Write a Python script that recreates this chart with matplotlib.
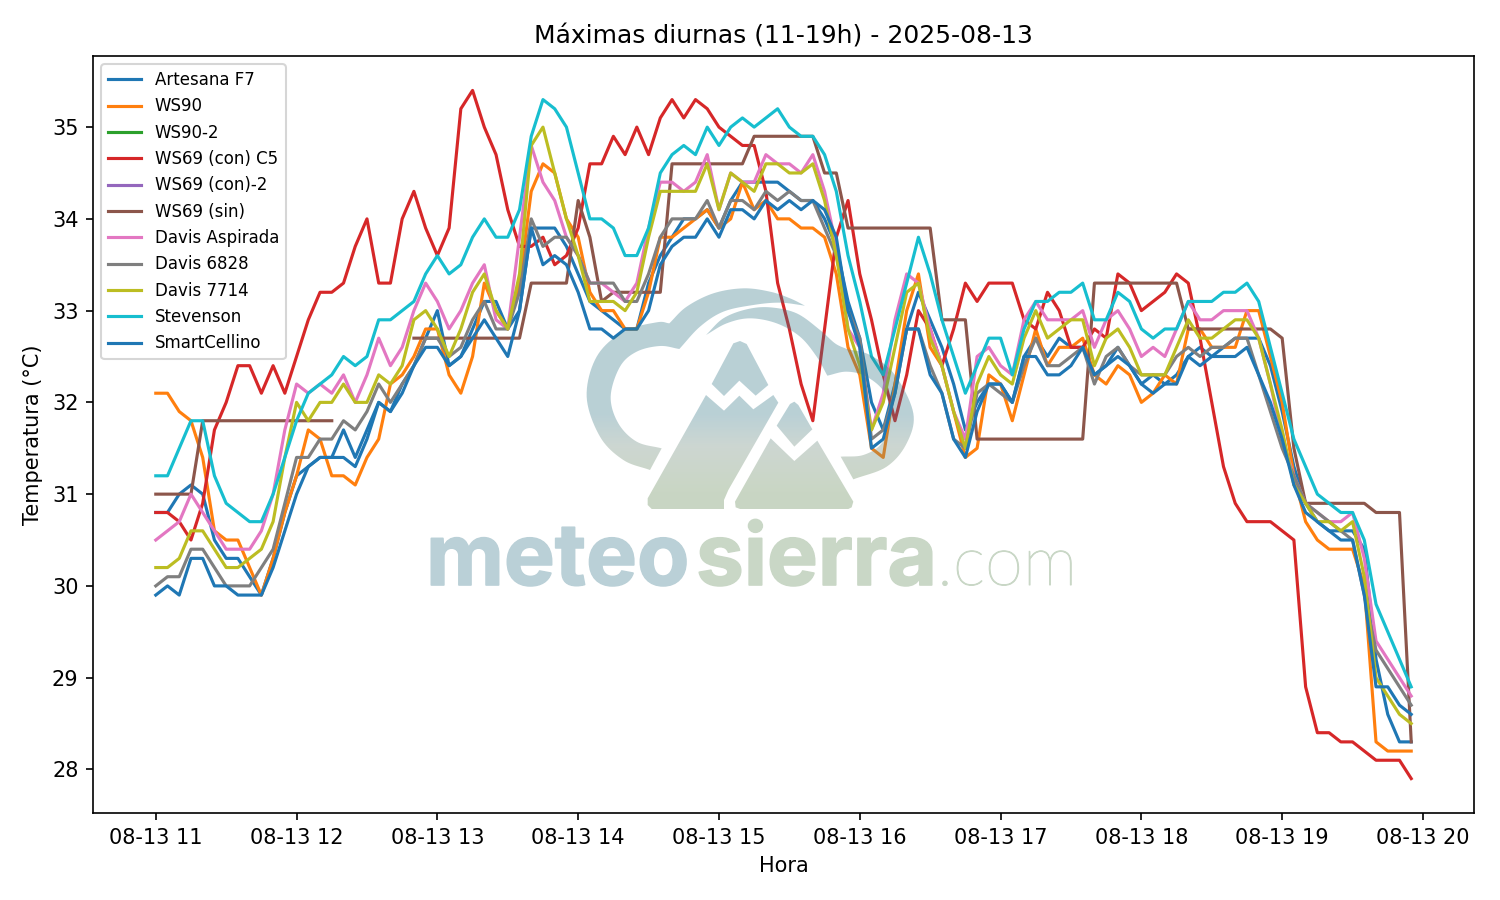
import numpy as np
import pandas as pd
import matplotlib
matplotlib.use("Agg")
import matplotlib.pyplot as plt
import matplotlib.dates as mdates
import matplotlib.patheffects as pe
from matplotlib.path import Path
from matplotlib.patches import PathPatch

nan = np.nan
times = pd.date_range("2025-08-13 11:00", "2025-08-13 19:55", freq="5min")

artesana = [30.8,30.8,31.0,31.1,31.0,30.5,30.3,30.3,30.1,29.9,30.3,30.8,
            31.2,31.3,31.4,31.4,31.7,31.4,31.7,32.0,31.9,32.2,32.4,32.7,
            33.0,32.4,32.5,32.8,33.1,33.1,32.8,33.0,33.9,33.9,33.9,33.7,
            33.4,33.1,33.0,32.9,32.8,32.8,33.3,33.6,33.8,34.0,34.0,34.1,
            33.9,34.2,34.4,34.4,34.4,34.4,34.3,34.2,34.2,34.0,33.7,33.1,
            32.7,32.0,31.7,32.2,32.8,33.2,32.9,32.6,32.2,31.7,32.0,32.2,
            32.2,32.0,32.5,32.7,32.5,32.7,32.6,32.6,32.3,32.4,32.6,32.4,
            32.2,32.3,32.2,32.3,32.5,32.6,32.5,32.6,32.7,32.7,32.7,32.4,
            31.9,31.3,30.9,30.7,30.6,30.6,30.6,30.4,29.2,28.6,28.3,28.3]
ws90 = [32.1,32.1,31.9,31.8,31.4,30.6,30.5,30.5,30.2,29.9,30.3,30.8,
        31.2,31.7,31.6,31.2,31.2,31.1,31.4,31.6,32.2,32.3,32.5,32.8,
        32.8,32.3,32.1,32.5,33.3,33.0,32.8,33.3,34.3,34.6,34.5,34.0,
        33.8,33.2,33.0,33.0,32.8,32.8,33.2,33.8,33.8,33.9,34.0,34.1,
        33.9,34.0,34.4,34.1,34.2,34.0,34.0,33.9,33.9,33.8,33.4,32.6,
        32.3,31.5,31.4,32.2,33.0,33.4,32.6,32.4,31.9,31.4,31.5,32.3,
        32.2,31.8,32.3,32.8,32.4,32.6,32.6,32.7,32.3,32.2,32.4,32.3,
        32.0,32.1,32.3,32.2,32.8,32.8,32.6,32.6,32.6,33.0,33.0,32.5,
        32.0,31.2,30.7,30.5,30.4,30.4,30.4,30.0,28.3,28.2,28.2,28.2]
ws90_2 = []
ws69_con_c5 = [30.8,30.8,30.7,30.5,30.9,31.7,32.0,32.4,32.4,32.1,32.4,32.1,
               32.5,32.9,33.2,33.2,33.3,33.7,34.0,33.3,33.3,34.0,34.3,33.9,
               33.6,33.9,35.2,35.4,35.0,34.7,34.1,33.7,33.7,33.8,33.5,33.6,
               33.9,34.6,34.6,34.9,34.7,35.0,34.7,35.1,35.3,35.1,35.3,35.2,
               35.0,34.9,34.8,34.8,34.3,33.3,32.8,32.2,31.8,32.8,33.8,34.2,
               33.4,32.9,32.3,31.8,32.3,33.0,32.8,32.4,32.8,33.3,33.1,33.3,
               33.3,33.3,32.9,32.8,33.2,33.0,32.6,32.6,32.8,32.7,33.4,33.3,
               33.0,33.1,33.2,33.4,33.3,32.7,32.0,31.3,30.9,30.7,30.7,30.7,
               30.6,30.5,28.9,28.4,28.4,28.3,28.3,28.2,28.1,28.1,28.1,27.9]
ws69_con_2 = []
ws69_sin = [31.0,31.0,31.0,31.0,31.8,31.8,31.8,31.8,31.8,31.8,31.8,31.8,
            31.8,31.8,31.8,31.8,nan,nan,nan,nan,nan,nan,32.7,32.7,
            32.7,32.7,32.7,32.7,32.7,32.7,32.7,32.7,33.3,33.3,33.3,33.3,
            34.2,33.8,33.1,33.2,33.2,33.2,33.2,33.2,34.6,34.6,34.6,34.6,
            34.6,34.6,34.6,34.9,34.9,34.9,34.9,34.9,34.9,34.5,34.5,33.9,
            33.9,33.9,33.9,33.9,33.9,33.9,33.9,32.9,32.9,32.9,31.6,31.6,
            31.6,31.6,31.6,31.6,31.6,31.6,31.6,31.6,33.3,33.3,33.3,33.3,
            33.3,33.3,33.3,33.3,32.8,32.8,32.8,32.8,32.8,32.8,32.8,32.8,
            32.7,31.5,30.9,30.9,30.9,30.9,30.9,30.9,30.8,30.8,30.8,28.3]
davis_aspirada = [30.5,30.6,30.7,31.0,30.8,30.6,30.4,30.4,30.4,30.6,31.0,31.7,
                  32.2,32.1,32.2,32.1,32.3,32.0,32.3,32.7,32.4,32.6,33.0,33.3,
                  33.1,32.8,33.0,33.3,33.5,32.9,32.8,33.8,34.8,34.4,34.2,33.8,
                  33.6,33.3,33.3,33.2,33.1,33.3,33.9,34.4,34.4,34.3,34.4,34.7,
                  34.1,34.5,34.4,34.4,34.7,34.6,34.6,34.5,34.7,34.3,33.7,32.8,
                  32.6,31.7,32.1,32.9,33.4,33.3,32.8,32.4,31.9,31.6,32.5,32.6,
                  32.4,32.3,32.9,33.1,32.9,32.9,32.9,33.0,32.6,32.9,33.0,32.8,
                  32.5,32.6,32.5,32.8,33.1,32.9,32.9,33.0,33.0,33.0,32.7,32.2,
                  31.6,31.2,30.9,30.8,30.7,30.7,30.8,30.3,29.4,29.2,29.0,28.8]
davis_6828 = [30.0,30.1,30.1,30.4,30.4,30.2,30.0,30.0,30.0,30.2,30.4,30.9,
              31.4,31.4,31.6,31.6,31.8,31.7,31.9,32.2,32.0,32.2,32.4,32.7,
              32.7,32.5,32.6,32.9,33.1,32.8,32.8,33.2,34.0,33.7,33.8,33.8,
              33.6,33.3,33.3,33.3,33.1,33.1,33.4,33.8,34.0,34.0,34.0,34.2,
              33.9,34.2,34.2,34.1,34.3,34.2,34.3,34.2,34.2,33.9,33.6,33.0,
              32.7,31.6,31.7,32.1,32.8,32.8,32.4,32.1,31.6,31.5,32.1,32.2,
              32.1,32.0,32.4,32.7,32.4,32.4,32.5,32.6,32.2,32.5,32.6,32.4,
              32.3,32.3,32.3,32.5,32.6,32.5,32.6,32.6,32.7,32.7,32.3,31.9,
              31.5,31.2,30.9,30.8,30.7,30.6,30.5,29.9,29.3,29.1,28.9,28.7]
davis_7714 = [30.2,30.2,30.3,30.6,30.6,30.4,30.2,30.2,30.3,30.4,30.7,31.4,
              32.0,31.8,32.0,32.0,32.2,32.0,32.0,32.3,32.2,32.4,32.9,33.0,
              32.8,32.5,32.8,33.2,33.4,33.0,32.8,33.4,34.8,35.0,34.5,34.0,
              33.6,33.1,33.1,33.1,33.0,33.2,33.8,34.3,34.3,34.3,34.3,34.6,
              34.1,34.5,34.4,34.3,34.6,34.6,34.5,34.5,34.6,34.2,33.6,32.8,
              32.4,31.7,32.0,32.6,33.2,33.3,32.7,32.4,31.9,31.5,32.2,32.5,
              32.3,32.2,32.7,33.0,32.7,32.8,32.9,32.9,32.4,32.7,32.8,32.6,
              32.3,32.3,32.3,32.6,32.9,32.7,32.7,32.8,32.9,32.9,32.7,32.2,
              31.7,31.1,30.9,30.7,30.7,30.6,30.7,30.1,29.0,28.8,28.6,28.5]
stevenson = [31.2,31.2,31.5,31.8,31.8,31.2,30.9,30.8,30.7,30.7,31.0,31.4,
             31.8,32.1,32.2,32.3,32.5,32.4,32.5,32.9,32.9,33.0,33.1,33.4,
             33.6,33.4,33.5,33.8,34.0,33.8,33.8,34.1,34.9,35.3,35.2,35.0,
             34.5,34.0,34.0,33.9,33.6,33.6,33.9,34.5,34.7,34.8,34.7,35.0,
             34.8,35.0,35.1,35.0,35.1,35.2,35.0,34.9,34.9,34.7,34.3,33.6,
             33.1,32.5,32.3,32.8,33.3,33.8,33.4,32.9,32.5,32.1,32.4,32.7,
             32.7,32.3,32.8,33.1,33.1,33.2,33.2,33.3,32.9,32.9,33.2,33.1,
             32.8,32.7,32.8,32.8,33.1,33.1,33.1,33.2,33.2,33.3,33.1,32.6,
             32.1,31.6,31.3,31.0,30.9,30.8,30.8,30.5,29.8,29.5,29.2,28.9]
smartcellino = [29.9,30.0,29.9,30.3,30.3,30.0,30.0,29.9,29.9,29.9,30.2,30.6,
                31.0,31.3,31.4,31.4,31.4,31.3,31.6,32.0,31.9,32.1,32.4,32.6,
                32.6,32.4,32.5,32.7,32.9,32.7,32.5,33.0,33.9,33.5,33.6,33.5,
                33.2,32.8,32.8,32.7,32.8,32.8,33.0,33.5,33.7,33.8,33.8,34.0,
                33.8,34.1,34.1,34.0,34.2,34.1,34.2,34.1,34.2,34.1,33.8,33.0,
                32.6,31.5,31.6,32.1,32.8,32.8,32.3,32.1,31.6,31.4,31.9,32.2,
                32.2,32.0,32.5,32.5,32.3,32.3,32.4,32.6,32.3,32.4,32.5,32.4,
                32.2,32.1,32.2,32.2,32.5,32.4,32.5,32.5,32.5,32.6,32.3,32.0,
                31.6,31.1,30.8,30.7,30.6,30.5,30.5,29.9,28.9,28.9,28.7,28.6]

series_names = ["Artesana F7", "WS90", "WS90-2", "WS69 (con) C5", "WS69 (con)-2", "WS69 (sin)",
                "Davis Aspirada", "Davis 6828", "Davis 7714", "Stevenson", "SmartCellino"]
series_values = [artesana, ws90, ws90_2, ws69_con_c5, ws69_con_2, ws69_sin,
                 davis_aspirada, davis_6828, davis_7714, stevenson, smartcellino]

fig, ax = plt.subplots(figsize=(10, 6), dpi=150)
for name, vals in zip(series_names, series_values):
    if len(vals):
        assert len(vals) == len(times), (name, len(vals))
        ax.plot(times, vals, label=name)
    else:
        ax.plot(times[:0], vals, label=name)
ax.set_title("Máximas diurnas (11-19h) - 2025-08-13")
ax.set_xlabel("Hora")
ax.set_ylabel("Temperatura (°C)")
ax.xaxis.set_major_locator(mdates.HourLocator())
ax.xaxis.set_major_formatter(mdates.DateFormatter("%m-%d %H"))
ax.legend(loc="upper left", fontsize=8)
fig.subplots_adjust(left=93 / 1500, right=1474 / 1500, top=1 - 56 / 900, bottom=1 - 813 / 900)


def smooth(pts, n=10):
    p = np.array(pts, float)
    p = np.vstack([2 * p[0] - p[1], p, 2 * p[-1] - p[-2]])
    out = []
    for i in range(1, len(p) - 2):
        for t in np.linspace(0, 1, n, endpoint=False):
            a, b, c, d = p[i - 1], p[i], p[i + 1], p[i + 2]
            out.append(0.5 * (2 * b + (c - a) * t + (2 * a - 5 * b + 4 * c - d) * t**2
                              + (3 * b - a - 3 * c + d) * t**3))
    out.append(p[-2])
    return np.array(out)


def to_px(p):
    p = np.asarray(p, float)
    return np.c_[580 + p[:, 0] / 3, 280 + p[:, 1] / 3]


cloud_left = np.vstack([
    smooth([(210, 570), (130, 540), (60, 470), (20, 350), (50, 230), (130, 155), (230, 127), (268, 130)]),
    smooth([(268, 130), (320, 80), (400, 40), (490, 25), (570, 35), (630, 55), (675, 77)]),
    smooth([(675, 77), (600, 68), (520, 75), (430, 95), (360, 140), (298, 207)]),
    smooth([(298, 207), (240, 198), (170, 215), (120, 260), (92, 350), (115, 430), (170, 485), (245, 505)]),
])
cloud_right = np.vstack([
    smooth([(378, 165), (430, 115), (500, 88), (570, 82), (650, 100), (720, 150), (765, 190), (800, 207)]),
    smooth([(800, 207), (870, 225), (945, 285), (1000, 400), (980, 490), (920, 560), (820, 598)]),
    smooth([(782, 530), (850, 525), (905, 490), (930, 420), (915, 340), (860, 290), (800, 275), (742, 287)]),
    smooth([(742, 287), (710, 230), (660, 170), (590, 130), (510, 115), (440, 130), (378, 165)]),
])
peak = [(480, 183), (500, 192), (565, 315), (527, 347), (478, 302), (432, 348), (395, 312), (460, 190)]
body = [(378, 345), (432, 392), (478, 347), (520, 388), (580, 345), (595, 368), (445, 630), (432, 660),
        (432, 687), (215, 687), (203, 675), (203, 655)]
diamond = [(643, 365), (655, 375), (697, 448), (643, 500), (590, 437), (630, 372)]
right_mt = [(572, 475), (643, 543), (712, 482), (820, 665), (815, 682), (805, 687), (480, 687), (467, 682),
            (465, 665)]
logo_shapes = [to_px(cloud_left), to_px(cloud_right), to_px(peak), to_px(body), to_px(diamond), to_px(right_mt)]

verts, codes = [], []
for s in logo_shapes:
    verts.extend(s.tolist() + [s[0].tolist()])
    codes.extend([Path.MOVETO] + [Path.LINETO] * (len(s) - 1) + [Path.CLOSEPOLY])
logo_path = Path(verts, codes)

ov = fig.add_axes([0, 0, 1, 1], zorder=10)
ov.patch.set_visible(False)
ov.axis("off")
stops = [0.0, 0.57, 0.72, 0.92, 1.0]
top = (0.216, 0.475, 0.541)
mid = (0.44, 0.55, 0.49)
low = (0.396, 0.541, 0.337)
f = np.linspace(0, 1, 256)
grad = np.zeros((256, 1, 4))
for k in range(3):
    grad[:, 0, k] = np.interp(f, stops, [top[k], top[k], mid[k], low[k], low[k]])
grad[:, 0, 3] = 0.35
im = ov.imshow(grad, extent=[580, 920, 510, 285], aspect="auto", interpolation="bilinear")
ov.set_xlim(0, 1500)
ov.set_ylim(900, 0)
clip = PathPatch(logo_path, transform=ov.transData, facecolor="none", edgecolor="none")
ov.add_patch(clip)
im.set_clip_path(clip)

blue_fx = [pe.withStroke(linewidth=0.8, foreground="#bad0d7")]
green_fx = [pe.withStroke(linewidth=0.8, foreground="#c9d7c6")]
thin_fx = [pe.withStroke(linewidth=0.5, foreground="#c9d7c6")]
ov.text(426, 585, "meteo", family="Inter", weight="bold", fontsize=41, color="#bad0d7",
        va="baseline", ha="left", path_effects=blue_fx)
ov.text(696, 585, "sierra", family="Inter", weight="bold", fontsize=41, color="#c9d7c6",
        va="baseline", ha="left", path_effects=green_fx)
ov.text(937, 585, ".com", family="Lato", weight="light", fontsize=33, color="#c9d7c6",
        va="baseline", ha="left", path_effects=thin_fx)

fig.savefig("out.png", dpi=150)
